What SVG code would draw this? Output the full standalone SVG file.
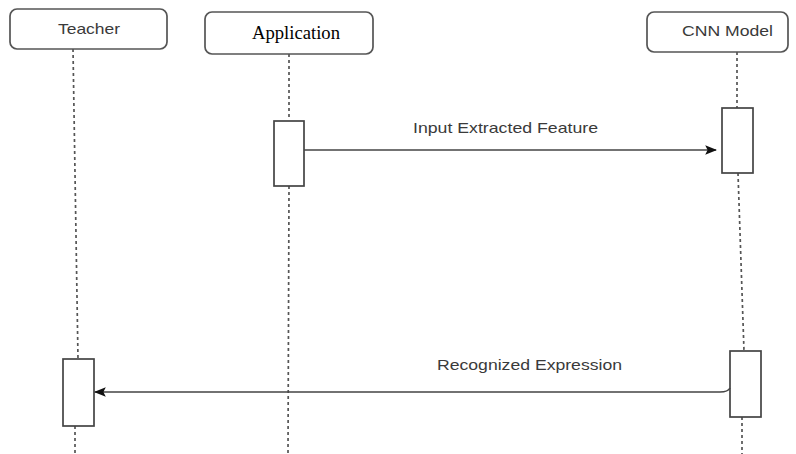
<svg xmlns="http://www.w3.org/2000/svg" width="796" height="454" viewBox="0 0 796 454">
<defs>
<style>
.head{fill:#fff;stroke:#555;stroke-width:1.7}
.act{fill:#fff;stroke:#444;stroke-width:1.7}
.life{stroke:#555;stroke-width:1.7;stroke-dasharray:3 3;fill:none}
.msg{stroke:#444;stroke-width:1.6;fill:none}
.lbl{font-family:"Liberation Sans",Arial,sans-serif;font-size:14.5px;fill:#3a3a3a}
.ser{font-family:"Liberation Serif","Times New Roman",serif;font-size:19px;fill:#000}
</style>
<marker id="arr" viewBox="0 0 10 10" refX="9" refY="5" markerWidth="12" markerHeight="12" markerUnits="userSpaceOnUse" orient="auto">
<path d="M0,1 L10,5 L0,9 L2,5 Z" fill="#111"/>
</marker>
</defs>
<rect width="796" height="454" fill="#fff"/>
<g id="lifelines">
<path class="life" d="M73,49 L78,359"/>
<path class="life" d="M75,426 L75,454"/>
<path class="life" d="M289,54 L289,120"/>
<path class="life" d="M289,186 L288,454"/>
<path class="life" d="M737,52 L737,108"/>
<path class="life" d="M738,173 L744,351"/>
<path class="life" d="M742,417 L742,454"/>
</g>
<g id="teacher">
<rect class="head" x="10" y="9" width="157" height="40" rx="7"/>
<text class="lbl" x="58" y="34" textLength="62" lengthAdjust="spacingAndGlyphs">Teacher</text>
<rect class="act" x="63" y="359" width="31" height="67"/>
</g>
<g id="application">
<rect class="head" x="205" y="12" width="168" height="42" rx="7"/>
<text class="ser" x="252" y="39" textLength="88" lengthAdjust="spacingAndGlyphs">Application</text>
<rect class="act" x="274" y="121" width="30" height="65"/>
</g>
<g id="cnn">
<rect class="head" x="647" y="12" width="141" height="40" rx="7"/>
<text class="lbl" x="682" y="36" textLength="91" lengthAdjust="spacingAndGlyphs">CNN Model</text>
<rect class="act" x="722" y="108" width="31" height="65"/>
<rect class="act" x="730" y="351" width="31" height="66"/>
</g>
<g id="connectors">
<path class="msg" d="M304,150 L716,150" marker-end="url(#arr)"/>
<text class="lbl" x="413" y="133" textLength="185" lengthAdjust="spacingAndGlyphs">Input Extracted Feature</text>
<path class="msg" d="M730,388 Q728,392 720,392 L95,392" marker-end="url(#arr)"/>
<text class="lbl" x="437" y="370" textLength="185" lengthAdjust="spacingAndGlyphs">Recognized Expression</text>
</g>
</svg>
